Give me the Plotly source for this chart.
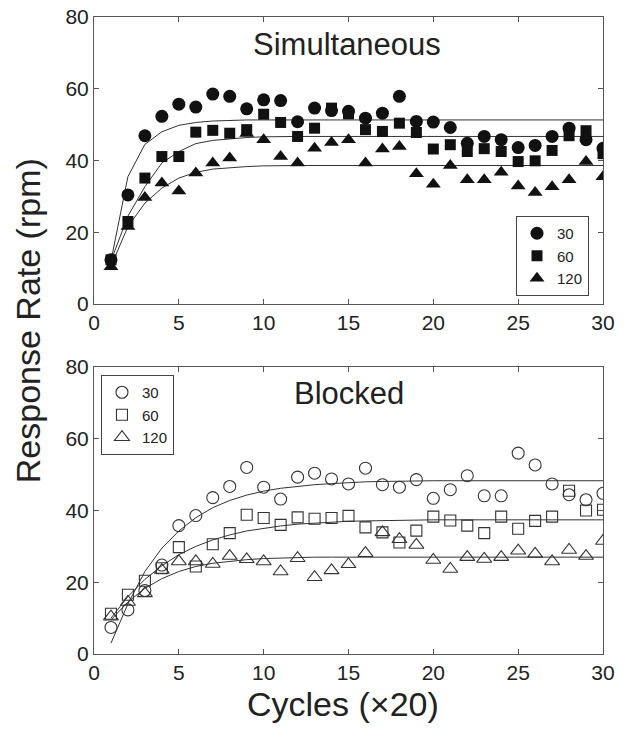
import plotly.graph_objects as go
from plotly.subplots import make_subplots

cycles = list(range(1, 31))
series_names = ["30", "60", "120"]

# Simultaneous (filled markers)
sim_30 = [12.3, 30.4, 46.9, 52.3, 55.7, 54.9, 58.5, 57.9, 54.4, 56.9,
          56.7, 50.8, 54.6, 53.9, 53.7, 51.8, 53.2, 57.9, 50.9, 50.7,
          49.2, 44.8, 46.7, 45.8, 43.6, 44.2, 46.7, 49.0, 45.8, 43.4]
sim_60 = [12.3, 23.0, 35.1, 41.1, 41.1, 47.9, 48.4, 47.6, 48.6, 52.9,
          50.6, 46.7, 49.0, 54.6, 53.0, 48.6, 48.1, 50.4, 47.8, 43.2,
          44.4, 42.5, 43.3, 42.5, 39.7, 39.9, 42.8, 46.9, 48.3, 41.9]
sim_120 = [10.4, 21.6, 29.7, 33.7, 31.5, 36.5, 39.3, 40.7, 47.5, 45.8,
           41.1, 39.3, 43.4, 45.0, 45.8, 39.3, 43.2, 43.9, 36.3, 33.4,
           38.6, 34.6, 34.6, 36.7, 32.9, 31.1, 32.7, 34.6, 39.7, 35.5]

sim_fit_x = [1, 2, 3, 4, 5, 6, 7, 8, 9, 10, 11, 12, 30]
sim_fit_30 = [12.0, 35.5, 44.5, 48.0, 49.8, 50.6, 51.0, 51.2, 51.3, 51.3, 51.3, 51.3, 51.3]
sim_fit_60 = [12.0, 24.5, 32.7, 39.3, 42.5, 44.7, 45.6, 46.1, 46.4, 46.6, 46.7, 46.7, 46.7]
sim_fit_120 = [10.5, 21.6, 28.1, 32.3, 35.1, 36.7, 37.6, 38.0, 38.3, 38.5, 38.6, 38.6, 38.6]

# Blocked (open markers)
blk_30 = [7.4, 12.3, 17.7, 24.8, 35.8, 38.6, 43.6, 46.7, 52.0, 46.5,
          43.2, 49.3, 50.4, 48.8, 47.4, 51.8, 47.2, 46.5, 48.6, 43.4,
          45.8, 49.7, 44.1, 44.1, 56.0, 52.7, 47.4, 44.4, 43.0, 44.8]
blk_60 = [11.2, 16.5, 20.4, 23.9, 29.8, 24.4, 30.6, 33.7, 38.8, 37.9,
          36.0, 38.1, 37.7, 37.9, 38.5, 35.3, 33.9, 31.1, 34.4, 38.3,
          37.2, 35.8, 33.7, 38.3, 34.9, 37.1, 38.3, 45.5, 40.0, 40.2]
blk_120 = [10.4, 14.5, 16.9, 23.4, 25.8, 25.8, 25.1, 27.3, 26.4, 25.8,
           23.0, 26.7, 21.4, 23.3, 25.0, 28.1, 33.9, 32.0, 30.4, 26.2,
           23.7, 27.0, 26.5, 27.0, 28.8, 27.9, 25.8, 29.0, 27.3, 31.5]

blk_fit_x = [1, 2, 3, 4, 5, 6, 7, 8, 9, 10, 11, 12, 13, 14, 15, 16, 17, 18, 20, 30]
blk_fit_30 = [3.0, 14.0, 23.0, 29.5, 34.3, 38.0, 40.8, 42.8, 44.3, 45.4,
              46.2, 46.8, 47.2, 47.5, 47.8, 48.0, 48.1, 48.2, 48.3, 48.3]
blk_fit_60 = [10.0, 16.0, 20.8, 24.6, 27.7, 30.0, 31.8, 33.2, 34.3, 35.1,
              35.7, 36.2, 36.5, 36.8, 37.0, 37.1, 37.2, 37.3, 37.4, 37.4]
blk_fit_120 = [9.5, 14.5, 18.3, 21.0, 23.0, 24.4, 25.3, 25.9, 26.3, 26.6,
               26.8, 26.9, 27.0, 27.0, 27.0, 27.0, 27.0, 27.0, 27.0, 27.0]

x_ticks = [0, 5, 10, 15, 20, 25, 30]
y_ticks = [0, 20, 40, 60, 80]

FONT = "Liberation Sans, Arial, sans-serif"
INK = "#111111"
AXIS = "#555555"
LINE = "#333333"

fig = make_subplots(rows=2, cols=1, vertical_spacing=0.0995)
fig.update_layout(
    xaxis=dict(domain=[0, 1]), yaxis=dict(domain=[0.5495, 1.0]),
    xaxis2=dict(domain=[0, 1]), yaxis2=dict(domain=[0.0, 0.4505]),
)

# fit curves
for fx, fy, row in [(sim_fit_x, sim_fit_30, 1), (sim_fit_x, sim_fit_60, 1), (sim_fit_x, sim_fit_120, 1),
                    (blk_fit_x, blk_fit_30, 2), (blk_fit_x, blk_fit_60, 2), (blk_fit_x, blk_fit_120, 2)]:
    fig.add_trace(go.Scatter(x=fx, y=fy, mode="lines", line=dict(color=LINE, width=1),
                             showlegend=False, hoverinfo="skip"), row=row, col=1)

sim_symbols = [("circle", 13), ("square", 11), ("triangle-up", 13)]
blk_symbols = [("circle-open", 12), ("square-open", 11), ("triangle-up-open", 13)]

for name, ys, (sym, sz) in zip(series_names, [sim_30, sim_60, sim_120], sim_symbols):
    fig.add_trace(go.Scatter(x=cycles, y=ys, mode="markers", name=name, legend="legend",
                             marker=dict(symbol=sym, size=sz, color=INK, line=dict(width=0))),
                  row=1, col=1)

for name, ys, (sym, sz) in zip(series_names, [blk_30, blk_60, blk_120], blk_symbols):
    fig.add_trace(go.Scatter(x=cycles, y=ys, mode="markers", name=name, legend="legend2",
                             marker=dict(symbol=sym, size=sz, color="#333333", line=dict(width=1.1, color="#333333"))),
                  row=2, col=1)

axis_common = dict(showline=True, linecolor=AXIS, linewidth=1, mirror="ticks", ticks="inside",
                   ticklen=5, tickcolor=AXIS, showgrid=False, zeroline=False, automargin=False,
                   ticklabeloverflow="allow",
                   tickfont=dict(family=FONT, size=21, color="#222222"))

fig.update_xaxes(range=[0, 30], tickvals=x_ticks, ticktext=[str(t) for t in x_ticks], **axis_common)
fig.update_yaxes(range=[0, 80], tickvals=y_ticks, ticktext=[str(t) for t in y_ticks], **axis_common)

legend_common = dict(bgcolor="white", bordercolor="#444444", borderwidth=1,
                     font=dict(family=FONT, size=15, color="#222222"), itemwidth=30,
                     tracegroupgap=0, xref="paper", yref="paper")

fig.update_layout(
    width=611, height=715,
    margin=dict(l=86, r=16, t=9, b=69, autoexpand=False),
    paper_bgcolor="white", plot_bgcolor="white",
    font=dict(family=FONT, color="#222222"),
    legend=dict(x=0.9725, y=0.562, xanchor="right", yanchor="bottom", **legend_common),
    legend2=dict(x=0.0137, y=0.438, xanchor="left", yanchor="top", **legend_common),
    annotations=[
        dict(text="Simultaneous", x=0.497, y=0.957, xref="paper", yref="paper",
             xanchor="center", yanchor="middle",
             showarrow=False, font=dict(family=FONT, size=31, color="#222222")),
        dict(text="Blocked", x=0.5, y=0.409, xref="paper", yref="paper",
             xanchor="center", yanchor="middle",
             showarrow=False, font=dict(family=FONT, size=31, color="#222222")),
        dict(text="Response Rate (rpm)", x=-0.1297, y=0.524, xref="paper", yref="paper",
             xanchor="center", yanchor="middle",
             textangle=-90, showarrow=False, font=dict(family=FONT, size=34, color="#222222")),
        dict(text="Cycles (×20)", x=0.489, y=-0.1115, xref="paper", yref="paper",
             xanchor="center", yanchor="bottom",
             showarrow=False, font=dict(family=FONT, size=34, color="#222222")),
    ],
)

fig.write_html("out.html")
